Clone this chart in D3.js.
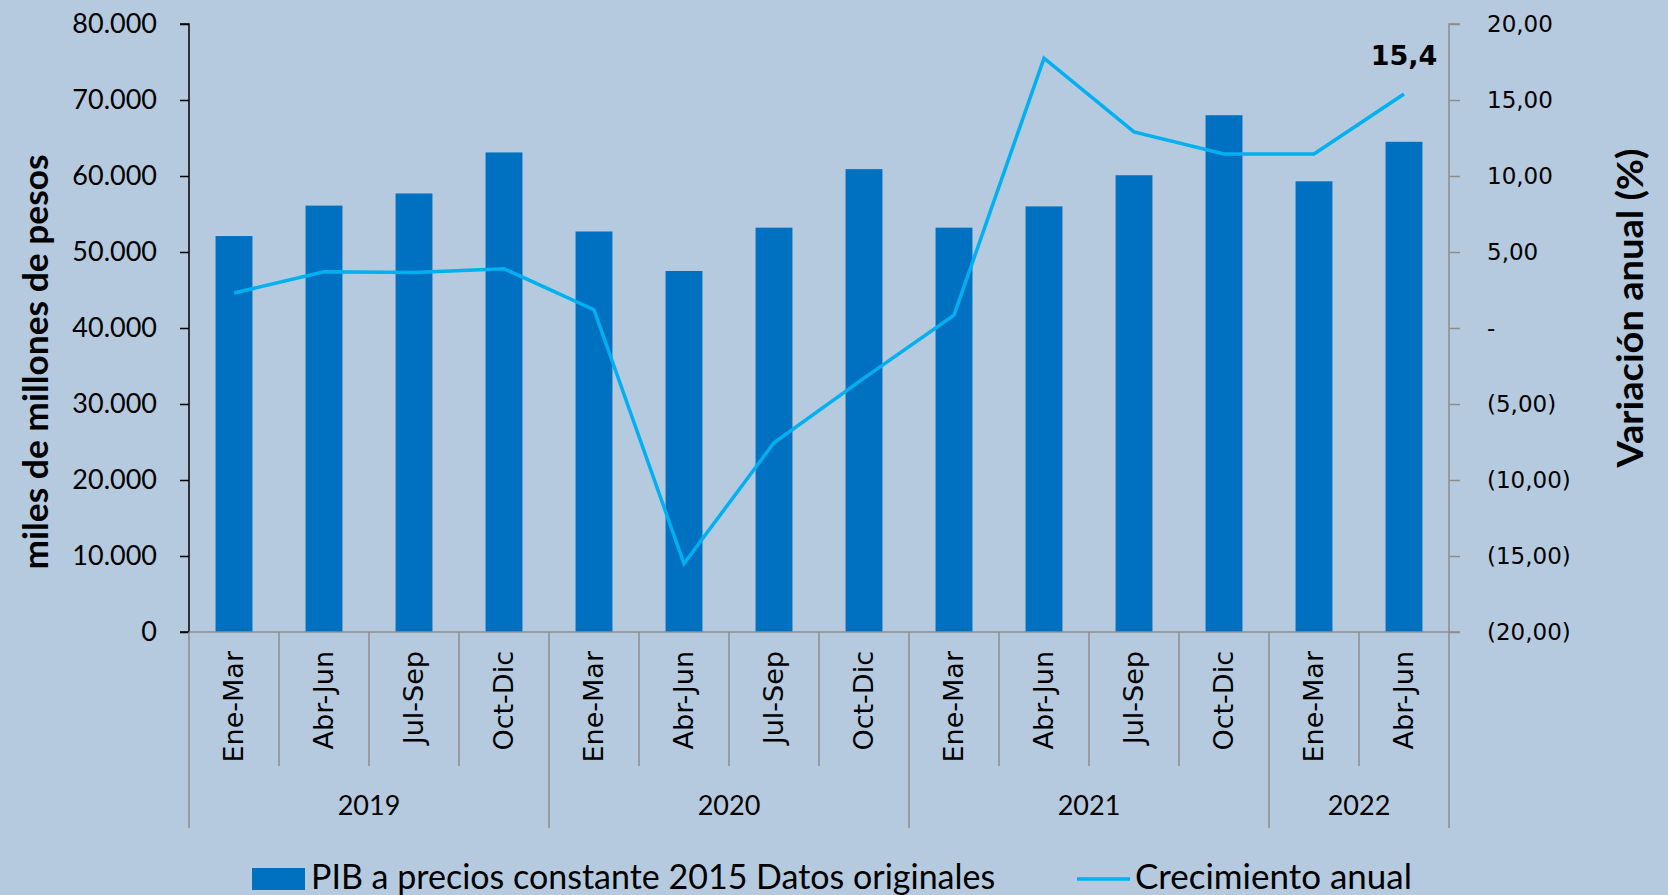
<!DOCTYPE html>
<html>
<head>
<meta charset="utf-8">
<script src="https://cdn.jsdelivr.net/npm/d3@7"></script>
<style>
  body { margin: 0; background: #b5cadf; }
  svg { display: block; }
</style>
</head>
<body>
<script>
// canvas size
var w = 1668;
var h = 895;

// data
var quarters = ["Ene-Mar", "Abr-Jun", "Jul-Sep", "Oct-Dic",
                "Ene-Mar", "Abr-Jun", "Jul-Sep", "Oct-Dic",
                "Ene-Mar", "Abr-Jun", "Jul-Sep", "Oct-Dic",
                "Ene-Mar", "Abr-Jun"];
var years = ["2019", "2020", "2021", "2022"];
var yearCounts = [4, 4, 4, 2];
var pib = [52100, 56100, 57700, 63100,
           52700, 47500, 53200, 60900,
           53200, 56000, 60100, 68000,
           59300, 64500];
var crecimiento = [2.3, 3.7, 3.65, 3.9,
                   1.2, -15.5, -7.55, -3.3,
                   0.85, 17.75, 12.9, 11.45,
                   11.45, 15.4];
var leftTicks = [0, 10000, 20000, 30000, 40000, 50000, 60000, 70000, 80000];
var rightTicks = [-20, -15, -10, -5, 0, 5, 10, 15, 20];

// plot area (don't use "top" - it's a window global)
var pLeft = 189, pRight = 1449, pTop = 24, pBottom = 632;

var svg = d3.select("body")
            .append("svg")
            .attr("width", w)
            .attr("height", h);

// scales
var xScale = d3.scaleBand()
                .domain(d3.range(quarters.length))
                .range([pLeft, pRight])
                .padding(0);
var barW = xScale.bandwidth() * 0.41;

var yLeft = d3.scaleLinear().domain([0, 80000]).range([pBottom, pTop]);
var yRight = d3.scaleLinear().domain([-20, 20]).range([pBottom, pTop]);

var fmtLeft = function(d) { return d3.format(",")(d).replace(/,/g, "."); };
var fmtRight = function(d) {
    if (d === 0) return "-";
    var s = d3.format(".2f")(Math.abs(d)).replace(".", ",");
    return d < 0 ? "(" + s + ")" : s;
};

// bars
svg.append("g")
    .selectAll("rect")
    .data(pib)
    .enter()
    .append("rect")
    .attr("x", function(d, i) { return xScale(i) + (xScale.bandwidth() - barW) / 2; })
    .attr("y", function(d) { return yLeft(d); })
    .attr("width", barW)
    .attr("height", function(d) { return pBottom - yLeft(d); })
    .attr("fill", "#0070c0");

// left axis
var gl = svg.append("g")
    .attr("transform", "translate(" + pLeft + ",0)")
    .call(d3.axisLeft(yLeft).tickValues(leftTicks).tickFormat(fmtLeft).tickSize(9).tickPadding(23));
gl.selectAll("path, line").attr("stroke", "#000").attr("stroke-width", 1.5);
gl.select(".domain").attr("d", "M-9," + pTop + "H0V" + pBottom + "H-9");
gl.selectAll("text")
    .attr("font-family", "Lato, 'Open Sans', sans-serif")
    .attr("font-size", 27)
    .attr("fill", "#000");

// right axis
var gr = svg.append("g")
    .attr("transform", "translate(" + pRight + ",0)")
    .call(d3.axisRight(yRight).tickValues(rightTicks).tickFormat(fmtRight).tickSize(11).tickPadding(27));
gr.selectAll("path, line").attr("stroke", "#8c8c8c").attr("stroke-width", 1.5);
gr.select(".domain").attr("d", "M11," + pTop + "H0V" + pBottom + "H11");
gr.selectAll("text")
    .attr("font-family", "'DejaVu Sans', sans-serif")
    .attr("font-size", 23)
    .attr("fill", "#000");

// baseline
svg.append("line")
    .attr("x1", pLeft).attr("x2", pRight)
    .attr("y1", pBottom).attr("y2", pBottom)
    .attr("stroke", "#8c8c8c").attr("stroke-width", 1.5);

// category separators
var sepQ = 766, sepY = 828;
var yearStarts = [0];
yearCounts.forEach(function(c, i) { yearStarts.push(yearStarts[i] + c); });

svg.append("g")
    .selectAll("line")
    .data(d3.range(quarters.length + 1))
    .enter()
    .append("line")
    .attr("x1", function(i) { return i < quarters.length ? xScale(i) : pRight; })
    .attr("x2", function(i) { return i < quarters.length ? xScale(i) : pRight; })
    .attr("y1", pBottom)
    .attr("y2", function(i) { return yearStarts.indexOf(i) >= 0 ? sepY : sepQ; })
    .attr("stroke", "#8c8c8c")
    .attr("stroke-width", 1.5);

// quarter labels
svg.append("g")
    .selectAll("text")
    .data(quarters)
    .enter()
    .append("text")
    .attr("transform", function(d, i) {
        return "translate(" + (xScale(i) + xScale.bandwidth() / 2 + 9) + "," + 651 + ") rotate(-90)";
    })
    .attr("text-anchor", "end")
    .attr("font-family", "'DejaVu Sans', sans-serif")
    .attr("font-size", 27)
    .attr("fill", "#000")
    .text(function(d) { return d; });

// year labels
svg.append("g")
    .selectAll("text")
    .data(years)
    .enter()
    .append("text")
    .attr("x", function(d, i) {
        var a = xScale(yearStarts[i]);
        var b = yearStarts[i + 1] < quarters.length ? xScale(yearStarts[i + 1]) : pRight;
        return (a + b) / 2;
    })
    .attr("y", 815)
    .attr("text-anchor", "middle")
    .attr("font-family", "Lato, 'Open Sans', sans-serif")
    .attr("font-size", 27)
    .attr("fill", "#000")
    .text(function(d) { return d; });

// growth line
var line = d3.line()
    .x(function(d, i) { return xScale(i) + xScale.bandwidth() / 2; })
    .y(function(d) { return yRight(d); });

svg.append("path")
    .datum(crecimiento)
    .attr("d", line)
    .attr("fill", "none")
    .attr("stroke", "#00b0f0")
    .attr("stroke-width", 3.5);

// last value label
var last = crecimiento.length - 1;
svg.append("text")
    .attr("x", xScale(last) + xScale.bandwidth() / 2)
    .attr("y", yRight(crecimiento[last]) - 29)
    .attr("text-anchor", "middle")
    .attr("font-family", "'DejaVu Sans', sans-serif")
    .attr("font-weight", "bold")
    .attr("font-size", 27)
    .attr("fill", "#000")
    .text(fmtRight(crecimiento[last]).replace(/0$/, ""));

// axis titles
svg.append("text")
    .attr("transform", "translate(48,362) rotate(-90)")
    .attr("text-anchor", "middle")
    .attr("font-family", "Lato, sans-serif")
    .attr("font-weight", "bold")
    .attr("font-size", 34)
    .attr("textLength", 415)
    .attr("lengthAdjust", "spacingAndGlyphs")
    .attr("fill", "#000")
    .text("miles de millones de pesos");

svg.append("text")
    .attr("transform", "translate(1643,308) rotate(-90)")
    .attr("text-anchor", "middle")
    .attr("font-family", "Lato, sans-serif")
    .attr("font-weight", "bold")
    .attr("font-size", 36)
    .attr("textLength", 319)
    .attr("lengthAdjust", "spacingAndGlyphs")
    .attr("fill", "#000")
    .text("Variación anual (%)");

// legend
var lg = svg.append("g");
lg.append("rect")
    .attr("x", 252).attr("y", 868)
    .attr("width", 53).attr("height", 22)
    .attr("fill", "#0070c0");
lg.append("text")
    .attr("x", 311).attr("y", 889)
    .attr("font-family", "Lato, sans-serif")
    .attr("font-size", 34)
    .attr("fill", "#000")
    .text("PIB a precios constante 2015 Datos originales");
lg.append("line")
    .attr("x1", 1077).attr("x2", 1130)
    .attr("y1", 879).attr("y2", 879)
    .attr("stroke", "#00b0f0")
    .attr("stroke-width", 3.5);
lg.append("text")
    .attr("x", 1135).attr("y", 889)
    .attr("font-family", "Lato, sans-serif")
    .attr("font-size", 34)
    .attr("textLength", 277)
    .attr("lengthAdjust", "spacingAndGlyphs")
    .attr("fill", "#000")
    .text("Crecimiento anual");
</script>
</body>
</html>
